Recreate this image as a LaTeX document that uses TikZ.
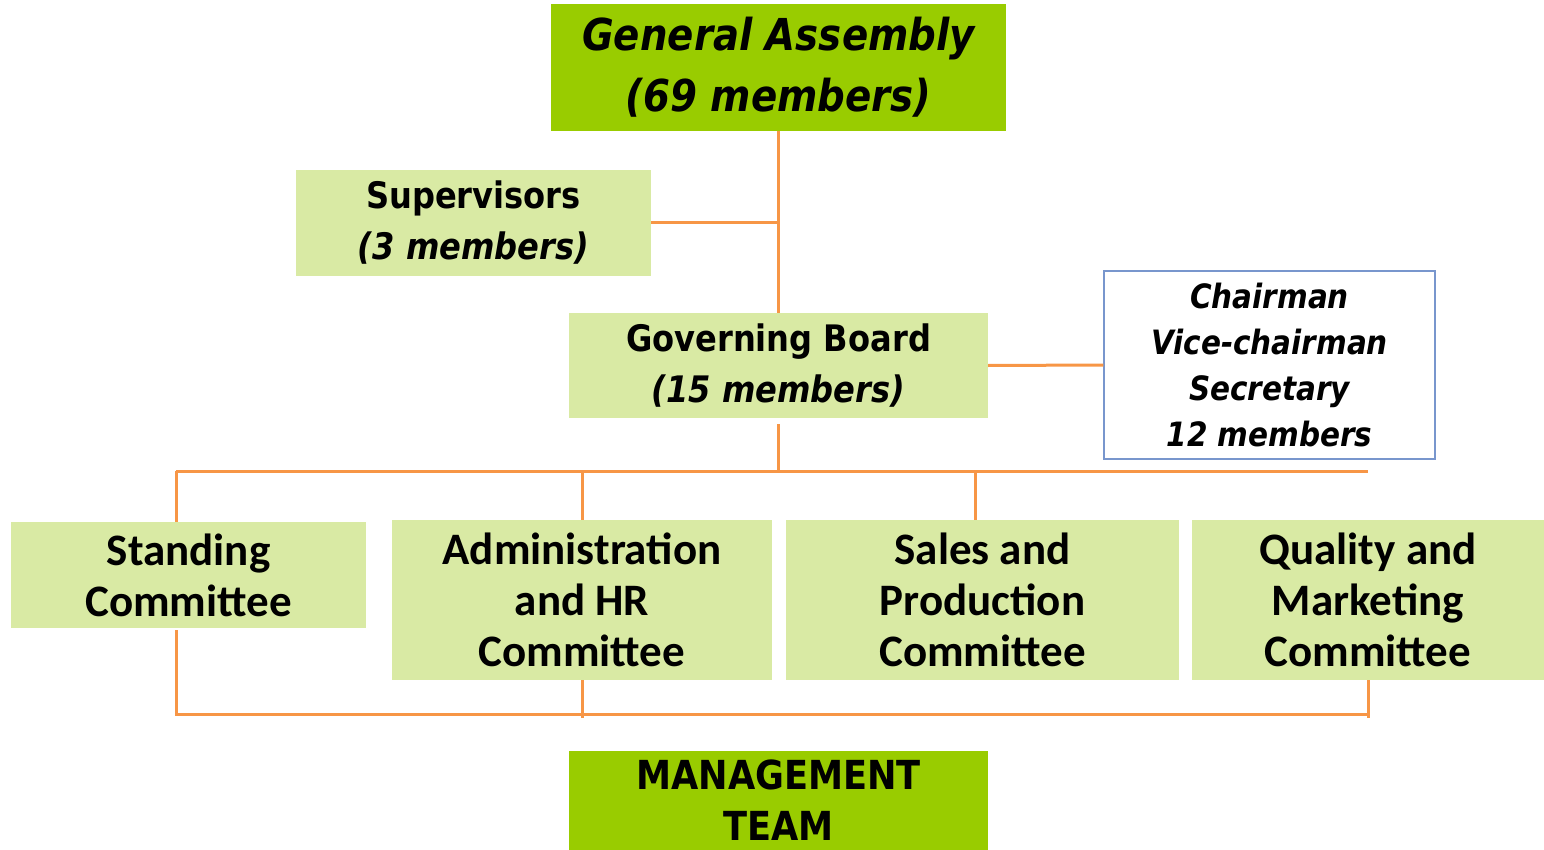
\documentclass[tikz,border=0pt]{standalone}
\usepackage{fontspec}
\setmainfont{DejaVu Sans}[FakeStretch=0.88]
\newfontfamily\calibri{Carlito}
\definecolor{darkgreen}{RGB}{153,204,0}
\definecolor{lightgreen}{RGB}{217,234,164}
\definecolor{linkorange}{RGB}{247,150,70}
\definecolor{frameblue}{RGB}{120,150,205}

\begin{document}
\begin{tikzpicture}[x=1pt, y=-1pt,
	link/.style = {draw=linkorange, line width=3pt},
	box/.style = {inner sep=0pt, align=center, text=black},
	mainbox/.style = {box, fill=darkgreen},
	subbox/.style = {box, fill=lightgreen, font=\bfseries\fontsize{36.5}{51}\selectfont},
	cttee/.style = {box, fill=lightgreen, minimum height=160pt, font=\calibri\bfseries\fontsize{45}{51}\selectfont},
	]
	\useasboundingbox (0,0) rectangle (1544,850);
	\node[mainbox, minimum width=455pt, minimum height=127pt, font=\bfseries\itshape\fontsize{44}{61}\selectfont] (ga) at (778.5,67.5) {General Assembly\\(69 members)};
	\node[subbox, minimum width=355pt, minimum height=106pt] (sup) at (473.5,223) {Supervisors\\\textit{(3 members)}};
	\node[subbox, minimum width=419pt, minimum height=105pt] (gb) at (778.5,365.5) {Governing Board\\\textit{(15 members)}};
	\node[box, draw=frameblue, line width=1.2pt, minimum width=331pt, minimum height=188pt, font=\bfseries\itshape\fontsize{33.5}{46}\selectfont] (chair) at (1269.5,365) {Chairman\\Vice-chairman\\Secretary\\12 members};
	\node[cttee, minimum width=355pt, minimum height=106pt] (stand) at (188.5,575) {Standing\\Committee};
	\node[cttee, minimum width=380pt] (admin) at (582,600) {Administration\\and HR\\Committee};
	\node[cttee, minimum width=393pt] (sales) at (982.5,600) {Sales and\\Production\\Committee};
	\node[cttee, minimum width=352pt] (qual) at (1368,600) {Quality and\\Marketing\\Committee};
	\node[mainbox, minimum width=419pt, minimum height=99pt, font=\bfseries\fontsize{40}{51}\selectfont] (mgmt) at (778.5,800.5) {MANAGEMENT\\TEAM};

	\draw[link] (ga.south) -- (gb.north);
	\draw[link] (sup.east) -- (sup.east -| ga.south);
	\draw[link] (gb.east) -- (chair.west);

	% bus to the committees
	\coordinate (busL) at (176,471);
	\coordinate (busR) at (1368,471);
	\coordinate (salesTop) at (975,471);
	\draw[link] ([yshift=-6pt]gb.south) -- (gb.south |- busL);
	\draw[link] (busL) -- (busR);
	\draw[link] (busL) -- (busL |- stand.north);
	\draw[link] (admin.north |- busL) -- (admin.north);
	\draw[link] (salesTop) -- (salesTop |- sales.north);

	\coordinate (baseL) at (176,714);
	\coordinate (baseR) at (1368,714);
	\draw[link] ([yshift=-2pt]baseL |- stand.south) -- (baseL) -- (baseR);
	\draw[link] (admin.south) -- ([yshift=-4pt]admin.south |- baseL);
	\draw[link] (qual.south) -- ([yshift=-4pt]qual.south |- baseR);
\end{tikzpicture}
\end{document}
